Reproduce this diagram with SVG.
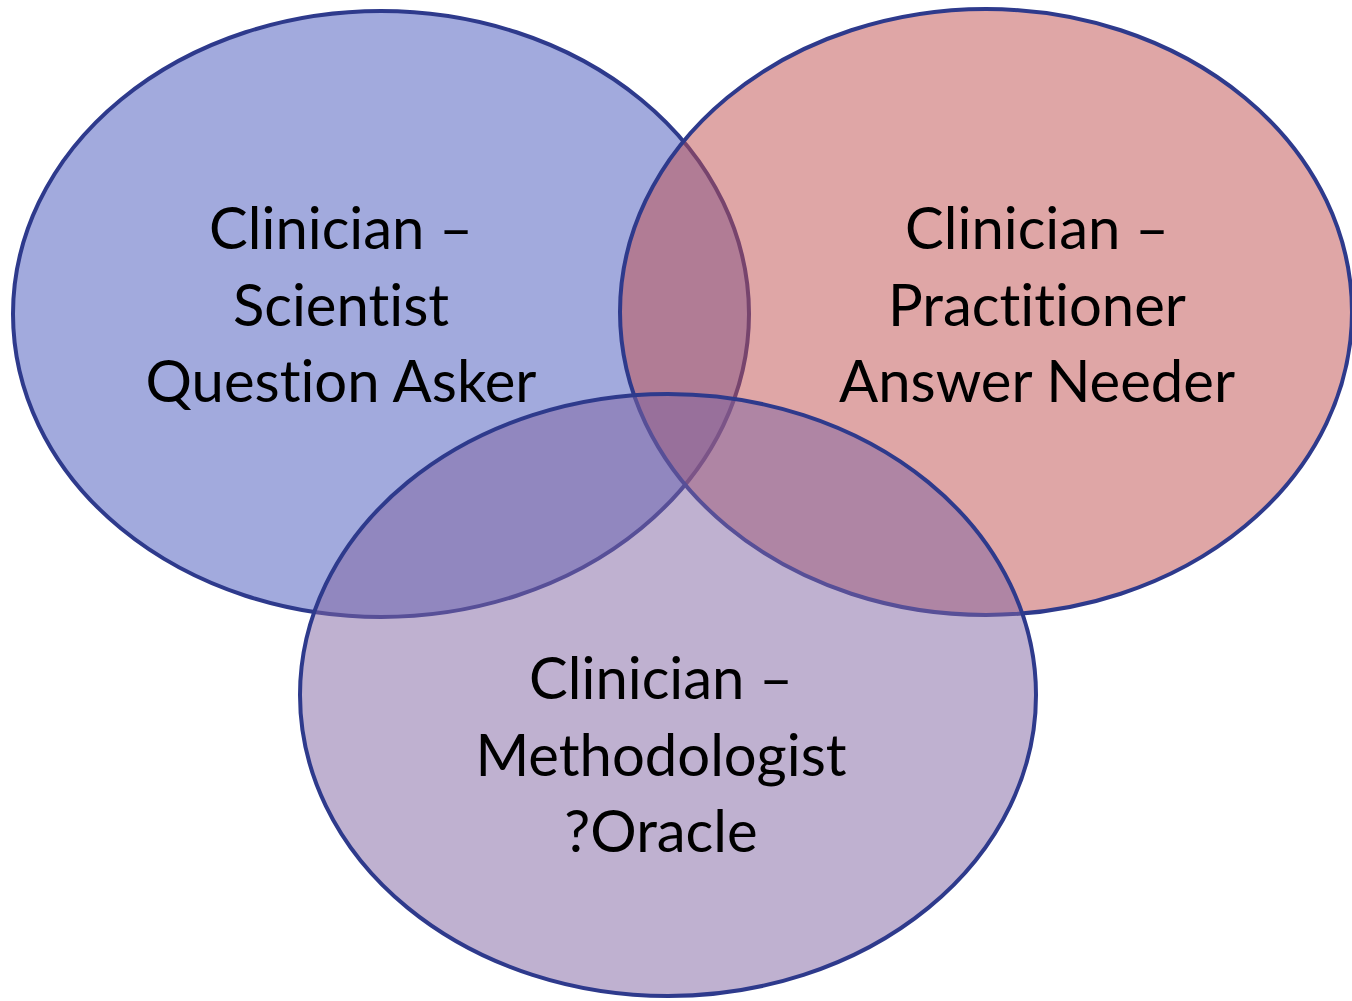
<svg xmlns="http://www.w3.org/2000/svg" width="1352" height="1001" viewBox="0 0 1352 1001">
  <style>
    .set { stroke: #2E3A8C; stroke-width: 4; fill-opacity: 0.5; }
    .label { font-family: Lato, "Open Sans", "Liberation Sans", sans-serif; font-size: 58px; fill: #000; text-anchor: middle; font-variant-ligatures: none; font-feature-settings: "liga" 0, "dlig" 0; }
  </style>
  <rect width="1352" height="1001" fill="#fff"/>
  <g id="scientist">
    <ellipse class="set" cx="381" cy="314" rx="368" ry="303" fill="#4555BB"/>
    <text class="label"><tspan x="341" y="249">Clinician –</tspan><tspan x="341" y="326">Scientist</tspan><tspan x="341" y="402">Question Asker</tspan></text>
  </g>
  <g id="practitioner">
    <ellipse class="set" cx="986" cy="312" rx="366" ry="303" fill="#C04D4D"/>
    <text class="label"><tspan x="1037" y="249">Clinician –</tspan><tspan x="1037" y="326">Practitioner</tspan><tspan x="1037" y="402">Answer Needer</tspan></text>
  </g>
  <g id="methodologist">
    <ellipse class="set" cx="668" cy="695" rx="368" ry="301" fill="#8064A2"/>
    <text class="label"><tspan x="661" y="699">Clinician –</tspan><tspan x="661" y="776">Methodologist</tspan><tspan x="661" y="852">?Oracle</tspan></text>
  </g>
</svg>
